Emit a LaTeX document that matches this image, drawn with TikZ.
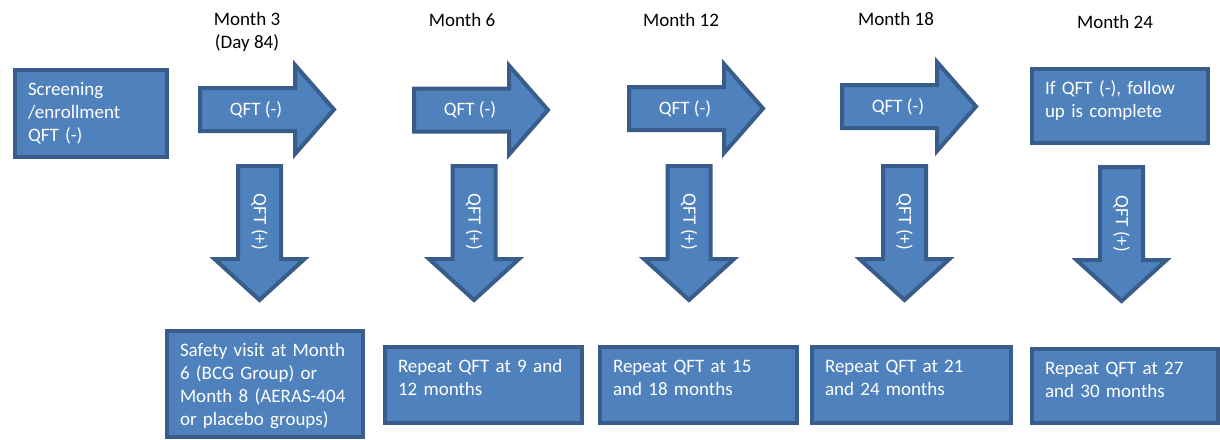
\documentclass[tikz,border=0pt]{standalone}
\usepackage{fontspec}
\setmainfont{Carlito}
\usetikzlibrary{positioning}
\definecolor{boxfill}{HTML}{4F81BD}
\definecolor{boxline}{HTML}{385D8A}
% block arrows: first value = left x / centre x, second = centre y / top y
\newcommand{\rightblock}[2]{\draw[blk] (#1,#2) ++(2,-21.5) -- ++(95,0) -- ++(0,-23) -- ++(39,44.5) -- ++(-39,44.5) -- ++(0,-23) -- ++(-95,0) -- cycle;}
\newcommand{\downblock}[2]{\draw[blk] (#1,#2) ++(-21.5,2) -- ++(43,0) -- ++(0,93) -- ++(23.5,0) -- ++(-45,41) -- ++(-45,-41) -- ++(23.5,0) -- cycle;}

\begin{document}
\begin{tikzpicture}[x=1pt, y=-1pt,
    every node/.style={font=\fontsize{19}{23}\selectfont, inner sep=0pt},
    blk/.style={draw=boxline, fill=boxfill, line width=4pt},
    box/.style={draw=boxline, fill=boxfill, line width=4pt, text=white, anchor=north west, align=left, inner sep=13pt, text height=12.2pt},
    lbl/.style={text=white},
    month/.style={align=center}]
    \useasboundingbox (0,0) rectangle (1220,439);

    % time points
    \node[month] (m3) at (247,32) {Month 3\\(Day 84)};
    \node[month] (m6) at (462,20) {Month 6};
    \node[month] (m12) at (681,20) {Month 12};
    \node[month] (m18) at (896,19) {Month 18};
    \node[month] (m24) at (1115,22) {Month 24};

    % top row
    \node[box, text width=126pt, text depth=48.8pt] (scr) at (13,68) {Screening\\/enrollment\\QFT (-)};
    \node[box, text width=150pt, text depth=35.8pt] (done) at (1030,67) {If QFT (-), follow\\up is complete};

    \rightblock{198}{109.5}
    \rightblock{412}{110}
    \rightblock{627}{108.5}
    \rightblock{840}{106.5}
    \node[lbl] (neg1) at (256,109.5) {QFT (-)};
    \node[lbl] (neg2) at (470,110) {QFT (-)};
    \node[lbl] (neg3) at (685,108.5) {QFT (-)};
    \node[lbl] (neg4) at (898,106.5) {QFT (-)};

    % QFT positive
    \downblock{259.5}{164}
    \downblock{474}{164}
    \downblock{689}{164}
    \downblock{904.5}{164}
    \downblock{1121.5}{165}
    \node[lbl, rotate=-90] (pos1) at (259.5,222) {QFT (+)};
    \node[lbl, rotate=-90] (pos2) at (474,222) {QFT (+)};
    \node[lbl, rotate=-90] (pos3) at (689,222) {QFT (+)};
    \node[lbl, rotate=-90] (pos4) at (904.5,222) {QFT (+)};
    \node[lbl, rotate=-90] (pos5) at (1121.5,224) {QFT (+)};

    % bottom row
    \node[box, text width=170pt, text depth=67.8pt] (safe) at (165,329) {Safety visit at Month\\6 (BCG Group) or\\Month 8 (AERAS-404\\or placebo groups)};
    \node[box, text width=171pt, text depth=37.8pt] (rep1) at (383,345) {Repeat QFT at 9 and\\12 months};
    \node[box, text width=171pt, text depth=37.8pt] (rep2) at (598,345) {Repeat QFT at 15\\and 18 months};
    \node[box, text width=173pt, text depth=37.8pt] (rep3) at (810,345) {Repeat QFT at 21\\and 24 months};
    \node[box, text width=160pt, text depth=35.8pt] (rep4) at (1030,347) {Repeat QFT at 27\\and 30 months};
\end{tikzpicture}
\end{document}
